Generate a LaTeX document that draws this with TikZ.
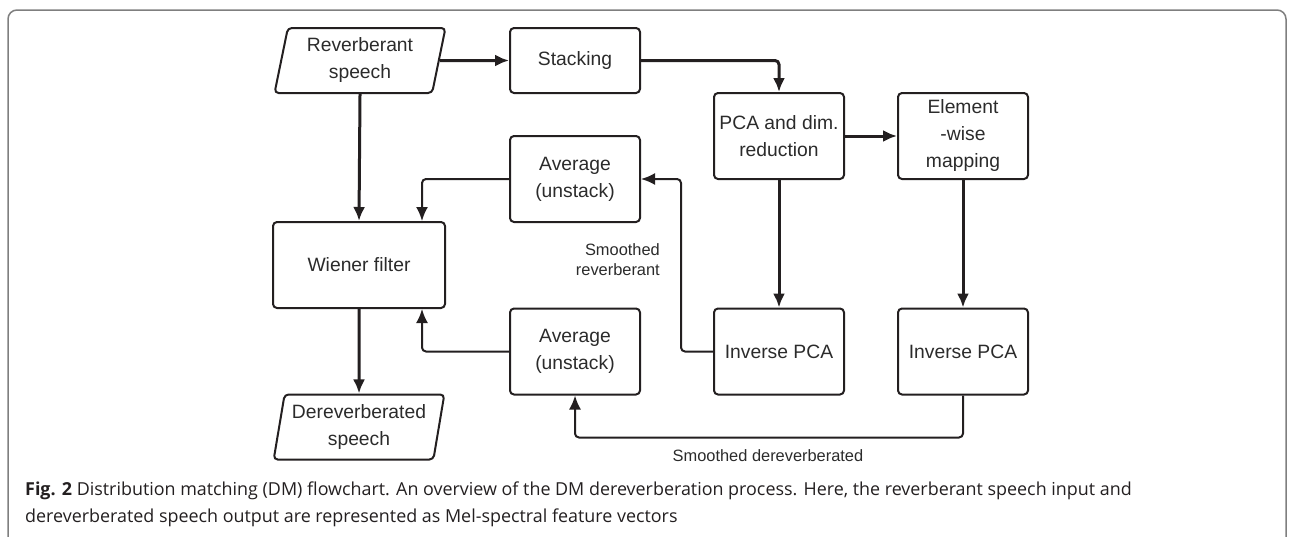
\documentclass[tikz,border=0pt]{standalone}
\usepackage{fontspec}
\setmainfont{Liberation Sans}
\newfontfamily\capfont{Open Sans}
\usetikzlibrary{arrows.meta,shapes.geometric}
\definecolor{ink}{HTML}{231F20}
\definecolor{txt}{HTML}{2B2B2B}
\definecolor{framegray}{HTML}{7F7F7F}
\tikzset{
  box/.style={draw=ink, line width=2pt, rounded corners=4pt, minimum width=130pt, minimum height=86pt, inner sep=2pt, align=center, text=txt, font=\fontsize{19.3}{27}\selectfont},
  io/.style={draw=ink, line width=2pt, rounded corners=4pt, shape=trapezium, trapezium left angle=78, trapezium right angle=102, trapezium stretches=true, minimum width=171pt, minimum height=65pt, inner sep=1pt, align=center, text=txt, font=\fontsize{19.3}{27}\selectfont},
  main/.style={draw=ink, line width=3pt, -{Latex[length=14pt,width=12pt]}},
  flow/.style={draw=ink, line width=2pt, rounded corners=4pt, -{Latex[length=14pt,width=12pt]}},
  lbl/.style={text=txt, font=\fontsize{16.4}{20}\selectfont, align=right, inner sep=0pt},
  captext/.style={text=ink, font=\capfont\fontsize{17.9}{29}\selectfont, inner sep=0pt, anchor=base west}
}
\begin{document}
\begin{tikzpicture}[x=1pt,y=-1pt]
\useasboundingbox (0,0) rectangle (1294,536);
\draw[framegray, line width=1.5pt, rounded corners=9pt] (8,545) -- (8,10) -- (1286,10) -- (1286,545);

\node[io] (rev) at (360,60.5) {Reverberant\\speech};
\node[box, minimum height=65pt] (stack) at (575,60.5) {Stacking};
\node[box] (pca) at (779,136) {PCA and dim.\\reduction};
\node[box] (elem) at (963,136) {Element\\-wise\\mapping};
\node[box] (avg1) at (575,179) {Average\\(unstack)};
\node[box, minimum width=172pt] (wien) at (359,265) {Wiener filter};
\node[box] (avg2) at (575,351.5) {Average\\(unstack)};
\node[box] (inv1) at (779,351.5) {Inverse PCA};
\node[box] (inv2) at (963,351.5) {Inverse PCA};
\node[io] (derev) at (359,427) {Dereverberated\\speech};

\draw[main] (rev.east) -- (stack.west);
\draw[main, rounded corners=4pt] (stack.east) -| (pca.north);
\draw[main] (pca.east) -- (elem.west);
\draw[main] (pca.south) -- (inv1.north);
\draw[main] (elem.south) -- (inv2.north);
\draw[main] (rev.south) -- (wien.north);
\draw[main] (wien.south) -- (derev.north);

\draw[flow] (inv1.west) -- ++(-32,0) |- (avg1.east);
\draw[flow] (avg1.west) -| ([xshift=150pt]wien.north west);
\draw[flow] (avg2.west) -| ([xshift=150pt]wien.south west);
\draw[flow] (inv2.south) -- ++(0,42) -| (avg2.south);

\node[lbl, anchor=north east] (l1) at (660,243) {Smoothed\\reverberant};
\node[lbl, anchor=north] (l2) at (768,449) {Smoothed dereverberated};

\node[captext] (c1) at (25,495) {\textbf{Fig. 2} Distribution matching (DM) flowchart. An overview of the DM dereverberation process. Here, the reverberant speech input and};
\node[captext] (c2) at (25,522) {dereverberated speech output are represented as Mel-spectral feature vectors};
\end{tikzpicture}
\end{document}
